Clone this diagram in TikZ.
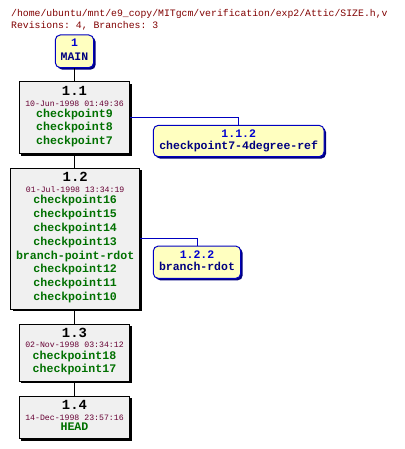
\documentclass[tikz,border=0pt]{standalone}
\usepackage{fontspec}
\setmonofont{Liberation Mono}
\usetikzlibrary{shadows}
\definecolor{titlec}{HTML}{800000}
\definecolor{datec}{HTML}{660033}
\definecolor{tagc}{HTML}{007000}
\definecolor{revc}{HTML}{0000D0}
\definecolor{navyc}{HTML}{000080}
\definecolor{boxfill}{HTML}{F0F0F0}
\definecolor{brfill}{HTML}{FFFFC0}
\definecolor{brline}{HTML}{0000C0}
\tikzset{
  revbox/.style={draw=black, fill=boxfill, line width=1pt, inner sep=0pt,
    drop shadow={shadow xshift=2pt, shadow yshift=-2pt, fill=black, opacity=1}},
  brbox/.style={draw=brline, fill=brfill, line width=1pt, inner sep=0pt, rounded corners=5pt,
    drop shadow={shadow xshift=2pt, shadow yshift=-2pt, fill=navyc, opacity=1}},
  vtxt/.style={font=\ttfamily\bfseries\fontsize{13.9}{14}\selectfont, inner sep=0pt, anchor=mid},
  dtxt/.style={font=\ttfamily\fontsize{8.2}{9}\selectfont, text=datec, inner sep=0pt, anchor=mid},
  ttxt/.style={font=\ttfamily\bfseries\fontsize{11.6}{12}\selectfont, text=tagc, inner sep=0pt, anchor=mid},
  bvtxt/.style={font=\ttfamily\bfseries\fontsize{11.5}{12}\selectfont, text=revc, inner sep=0pt, anchor=mid},
  bntxt/.style={font=\ttfamily\bfseries\fontsize{11.5}{12}\selectfont, text=navyc, inner sep=0pt, anchor=mid},
  hdr/.style={font=\ttfamily\fontsize{9.8}{10}\selectfont, text=titlec, inner sep=0pt, anchor=base west},
  trunk/.style={draw=black, line width=1pt},
  brconn/.style={draw=brline, line width=1pt},
}
\begin{document}
\begin{tikzpicture}[x=1pt,y=-1pt]
\useasboundingbox (0,0) rectangle (404,449);
% header
\node[hdr] (title) at (11,16.3) {/home/ubuntu/mnt/e9\_copy/MITgcm/verification/exp2/Attic/SIZE.h,v};
\node[hdr] (revs) at (11,28.3) {Revisions: 4, Branches: 3};
% MAIN
\node[brbox, minimum width=38.4pt, minimum height=32.7pt] (main) at (74.5,51.3) {};
\node[bvtxt] (mainv) at (74.5,44.3) {1};
\node[bntxt] (mainn) at (74.5,58.3) {MAIN};
% 1.1
\node[revbox, minimum width=110.4pt, minimum height=72pt] (r11) at (74.5,118) {};
\node[vtxt] (r11v) at (74.5,93.3) {1.1};
\node[dtxt] (r11d) at (74.5,104) {10-Jun-1998 01:49:36};
\node[ttxt] (r11a) at (74.5,115) {checkpoint9};
\node[ttxt] (r11b) at (74.5,128.8) {checkpoint8};
\node[ttxt] (r11c) at (74.5,142.6) {checkpoint7};
% 1.1.2
\node[brbox, minimum width=170.7pt, minimum height=31.4pt] (b112) at (238.7,141) {};
\node[bvtxt] (b112v) at (238.7,135) {1.1.2};
\node[bntxt] (b112n) at (238.7,147.3) {checkpoint7-4degree-ref};
% 1.2
\node[revbox, minimum width=129pt, minimum height=140.7pt] (r12) at (75.2,238.7) {};
\node[vtxt] (r12v) at (75.2,179) {1.2};
\node[dtxt] (r12d) at (75.2,190) {01-Jul-1998 13:34:19};
\foreach \t [count=\i from 0] in {checkpoint16,checkpoint15,checkpoint14,checkpoint13,branch-point-rdot,checkpoint12,checkpoint11,checkpoint10}
  \node[ttxt] (r12t\i) at (75.2,201.7+13.8*\i) {\t};
% 1.2.2
\node[brbox, minimum width=87.4pt, minimum height=32.3pt] (b122) at (197,262.2) {};
\node[bvtxt] (b122v) at (197,256) {1.2.2};
\node[bntxt] (b122n) at (197,268.3) {branch-rdot};
% 1.3
\node[revbox, minimum width=110.4pt, minimum height=57pt] (r13) at (74.5,352.8) {};
\node[vtxt] (r13v) at (74.5,335) {1.3};
\node[dtxt] (r13d) at (74.5,345.7) {02-Nov-1998 03:34:12};
\node[ttxt] (r13a) at (74.5,357) {checkpoint18};
\node[ttxt] (r13b) at (74.5,370.7) {checkpoint17};
% 1.4
\node[revbox, minimum width=110.4pt, minimum height=42.4pt] (r14) at (74.5,417.5) {};
\node[vtxt] (r14v) at (74.5,407) {1.4};
\node[dtxt] (r14d) at (74.5,418) {14-Dec-1998 23:57:16};
\node[ttxt] (r14a) at (74.5,428.7) {HEAD};
% connectors
\draw[trunk] (main.south) -- (r11.north);
\draw[trunk] (r11.south) -- (r11.south |- r12.north);
\draw[trunk] (r13.north |- r12.south) -- (r13.north);
\draw[trunk] (r13.south) -- (r14.north);
\draw[brconn] (r11.east) -| (b112.north);
\draw[brconn] (r12.east) -| (b122.north);
\end{tikzpicture}
\end{document}
